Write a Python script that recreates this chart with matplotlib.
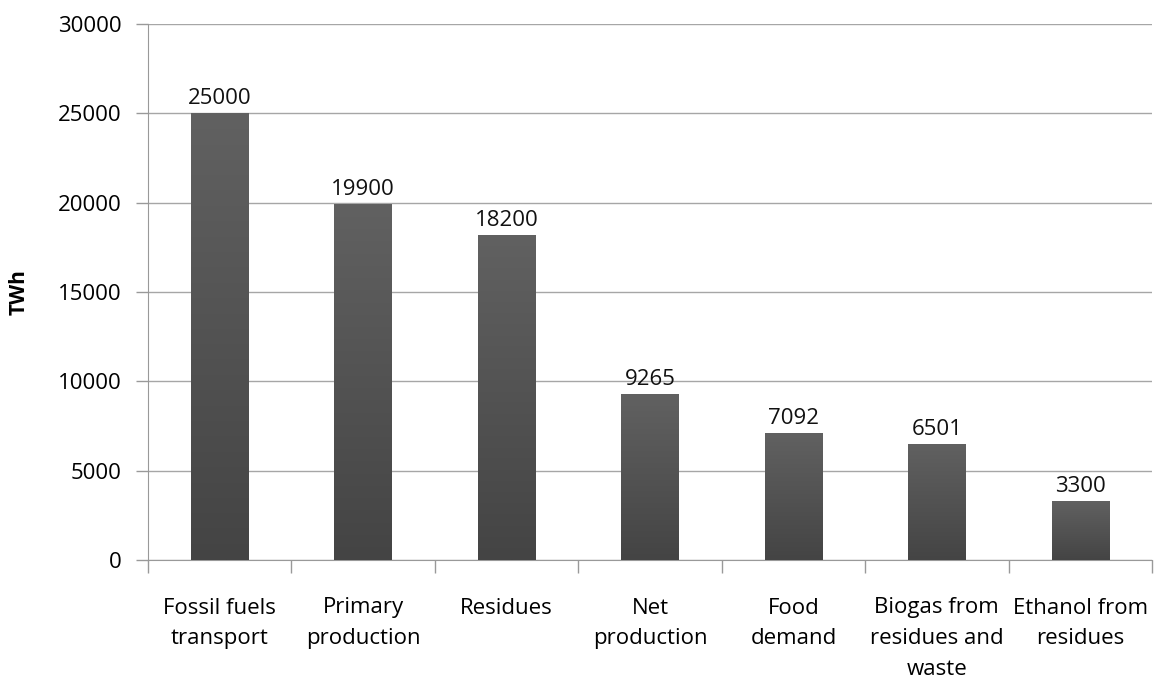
import matplotlib
matplotlib.use("Agg")
import matplotlib.pyplot as plt
import numpy as np
from matplotlib.colors import LinearSegmentedColormap

categories = ["Fossil fuels\ntransport", "Primary\nproduction", "Residues", "Net\nproduction",
              "Food\ndemand", "Biogas from\nresidues and\nwaste", "Ethanol from\nresidues"]
values = [25000, 19900, 18200, 9265, 7092, 6501, 3300]
y_ticks = [0, 5000, 10000, 15000, 20000, 25000, 30000]

plt.rcParams['font.family'] = ['Open Sans', 'DejaVu Sans']

fig = plt.figure(figsize=(11.58, 6.8), dpi=100)
ax = fig.add_axes([148/1158, 1-560/680, (1152-148)/1158, (560-24)/680])

x = np.arange(len(values))
bars = ax.bar(x, values, width=0.4, color='#555555', zorder=3)

grad = np.linspace(0, 1, 256).reshape(-1, 1)
cmap = LinearSegmentedColormap.from_list('g', ['#444444', '#616161'])
for b in bars:
    bx, by = b.get_x(), b.get_y()
    w, h = b.get_width(), b.get_height()
    im = ax.imshow(grad, extent=[bx, bx + w, by, by + h], origin='lower', cmap=cmap,
                   aspect='auto', zorder=4)
    im.set_clip_path(b)

for xi, v in zip(x, values):
    ax.annotate(f"{v}", (xi, v), xytext=(0, 3), textcoords='offset points',
                ha='center', va='bottom', fontsize=16, color='#111111', zorder=5)

ax.set_xlim(-0.5, len(values) - 0.5)
ax.set_ylim(0, 30000)
ax.set_yticks(y_ticks)
ax.set_yticklabels([str(t) for t in y_ticks], fontsize=16)
ax.yaxis.grid(True, color='#a6a6a6', linewidth=1, zorder=0)
ax.set_axisbelow(True)

ax.set_xticks(np.arange(-0.5, len(values), 1))
ax.set_xticklabels([])
ax.set_xticks(x, minor=True)
ax.set_xticklabels(categories, minor=True, fontsize=16, linespacing=1.6, va='top')
ax.tick_params(axis='x', which='minor', length=0, pad=27)
ax.tick_params(axis='x', which='major', length=9, color='#999999', width=1)
ax.tick_params(axis='y', length=9, color='#999999', width=1, pad=10)

for s in ['top', 'right']:
    ax.spines[s].set_visible(False)
for s in ['left', 'bottom']:
    ax.spines[s].set_color('#999999')

ax.set_ylabel('TWh', fontsize=15, fontweight='bold', labelpad=20)
ax.set_xlim(-0.5, len(values) - 0.5)
ax.set_ylim(0, 30000)

fig.savefig('out.png', dpi=100)
